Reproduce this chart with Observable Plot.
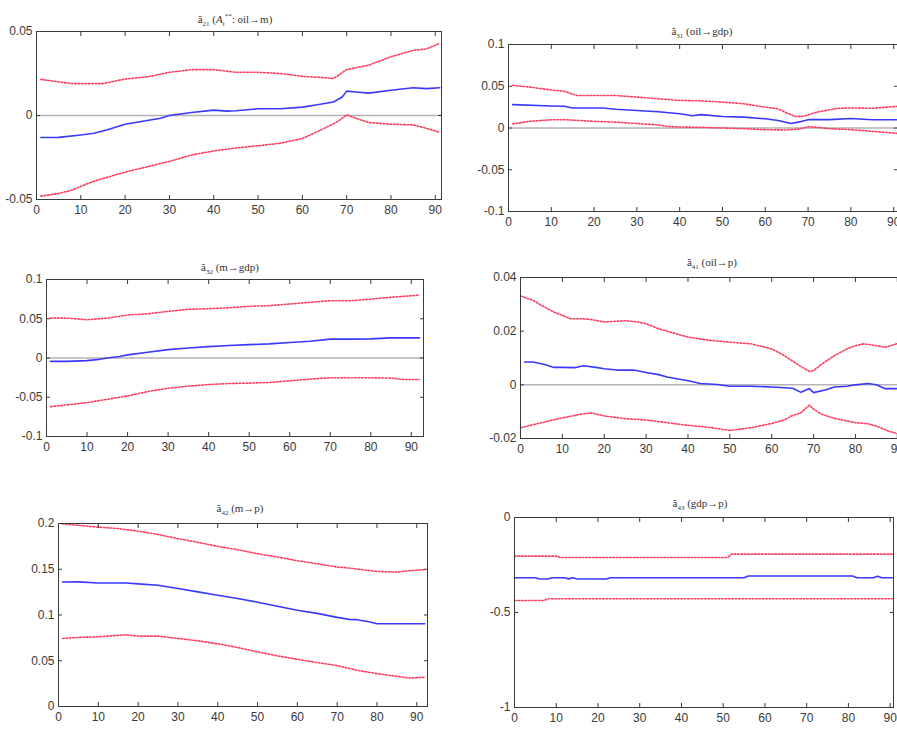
<!DOCTYPE html>
<html><head><meta charset="utf-8">
<script src="https://cdn.jsdelivr.net/npm/d3@7"></script>
<script src="https://cdn.jsdelivr.net/npm/@observablehq/plot@0.6"></script>
<style>
body{margin:0;background:#fff;}
#root{position:relative;width:897px;height:729px;overflow:hidden;background:#fff;}
.title{position:absolute;font-family:"Liberation Serif","DejaVu Serif",serif;font-size:11px;color:#333;transform:translateX(-50%);white-space:nowrap;line-height:12px;}
.title sub{font-size:7px;} .title sup{font-size:7px;}
</style></head><body><div id="root"></div>
<script>
const xTicks = [0,10,20,30,40,50,60,70,80,90];

// Panel 1: oil -> m
const p1Est = [[1,-0.0131],[5,-0.013],[10,-0.0116],[13,-0.0106],[16,-0.0085],[20,-0.0052],[25,-0.003],[28,-0.0016],[30,0],[35,0.0018],[40,0.0032],[43,0.0026],[45,0.0028],[50,0.004],[55,0.004],[60,0.005],[63,0.0062],[67,0.008],[69,0.011],[70,0.0145],[72,0.014],[75,0.0133],[80,0.015],[85,0.0165],[88,0.016],[91,0.0165]];
const p1Up = [[1,0.0215],[5,0.020],[8,0.019],[15,0.019],[20,0.0217],[25,0.023],[30,0.0257],[35,0.0273],[40,0.0273],[45,0.0257],[50,0.0257],[55,0.025],[60,0.0233],[65,0.0225],[67,0.022],[70,0.0273],[75,0.030],[80,0.035],[85,0.0388],[88,0.0396],[91,0.043]];
const p1Lo = [[1,-0.048],[5,-0.0464],[8,-0.0444],[12,-0.040],[15,-0.0375],[20,-0.0337],[25,-0.0305],[30,-0.0273],[35,-0.0235],[40,-0.0211],[45,-0.0193],[50,-0.018],[55,-0.0165],[60,-0.0137],[65,-0.0076],[68,-0.0036],[70,0.0004],[72,-0.0016],[75,-0.0042],[80,-0.0052],[85,-0.0056],[88,-0.0076],[91,-0.010]];
const p1YTicks = [-0.05,0,0.05];

// Panel 2: oil -> gdp
const p2Est = [[1,0.028],[10,0.0264],[13,0.026],[15,0.024],[22,0.024],[25,0.0224],[30,0.021],[35,0.0195],[40,0.017],[43,0.0146],[45,0.016],[50,0.0138],[55,0.013],[60,0.011],[63,0.009],[66,0.0053],[68,0.0073],[70,0.010],[75,0.010],[80,0.0114],[85,0.0098],[91,0.0098]];
const p2Up = [[1,0.051],[5,0.049],[10,0.0455],[13,0.044],[16,0.039],[25,0.039],[30,0.037],[35,0.035],[40,0.033],[45,0.0325],[50,0.031],[55,0.029],[60,0.025],[63,0.023],[65,0.018],[67,0.0138],[69,0.014],[72,0.019],[77,0.0236],[80,0.024],[85,0.0236],[91,0.026]];
const p2Lo = [[1,0.005],[5,0.008],[10,0.0098],[13,0.010],[20,0.008],[25,0.007],[30,0.0053],[35,0.0037],[37,0.002],[40,0.0012],[45,0.0008],[50,0],[55,-0.0008],[60,-0.002],[65,-0.0024],[68,-0.0012],[70,0.0016],[72,0.0008],[75,-0.0008],[80,-0.002],[85,-0.004],[91,-0.0065]];
const p2YTicks = [-0.1,-0.05,0,0.05,0.1];

// Panel 3: m -> gdp
const p3Est = [[1,-0.0043],[5,-0.0043],[10,-0.0034],[13,-0.0017],[15,0],[18,0.002],[20,0.004],[25,0.0073],[30,0.0107],[35,0.0128],[40,0.0145],[45,0.016],[50,0.017],[55,0.018],[60,0.0197],[65,0.0214],[70,0.024],[75,0.024],[80,0.0244],[85,0.0256],[92,0.0256]];
const p3Up = [[1,0.0508],[5,0.0508],[8,0.0496],[10,0.0487],[15,0.0508],[20,0.0547],[25,0.0564],[30,0.0594],[35,0.062],[40,0.0628],[45,0.064],[50,0.0658],[55,0.0667],[60,0.0688],[65,0.0709],[70,0.073],[75,0.073],[80,0.075],[85,0.0774],[92,0.080]];
const p3Lo = [[1,-0.062],[5,-0.0598],[10,-0.0568],[15,-0.0526],[20,-0.0483],[25,-0.0427],[30,-0.0385],[35,-0.0359],[40,-0.0338],[45,-0.0325],[50,-0.032],[55,-0.0312],[60,-0.029],[65,-0.0269],[70,-0.0252],[80,-0.0252],[85,-0.0256],[88,-0.0274],[92,-0.0274]];
const p3YTicks = [-0.1,-0.05,0,0.05,0.1];

// Panel 4: oil -> p
const p4Est = [[1,0.0085],[3,0.0085],[6,0.0075],[8,0.0065],[10,0.0065],[13,0.0064],[15,0.0071],[18,0.0065],[20,0.006],[23,0.0055],[27,0.0055],[30,0.0046],[33,0.0038],[35,0.0029],[40,0.0015],[43,0.0005],[47,0.0001],[50,-0.0005],[55,-0.0005],[60,-0.0008],[65,-0.0013],[67,-0.0028],[69,-0.0014],[70,-0.0029],[73,-0.0018],[75,-0.0008],[78,-0.0005],[80,0],[83,0.0005],[85,0],[87,-0.0014],[91,-0.0014]];
const p4Up = [[0,0.0331],[3,0.0315],[5,0.0296],[8,0.0271],[10,0.0259],[12,0.0246],[15,0.0246],[17,0.0243],[20,0.0234],[25,0.0239],[28,0.0234],[30,0.0228],[33,0.0209],[35,0.02],[40,0.0178],[45,0.0166],[50,0.0159],[55,0.0153],[60,0.0134],[63,0.0109],[65,0.0088],[67,0.0068],[69,0.005],[70,0.0053],[72,0.0078],[75,0.0109],[78,0.0134],[80,0.0146],[82,0.0153],[85,0.0146],[87,0.014],[91,0.0158]];
const p4Lo = [[0,-0.016],[5,-0.0141],[10,-0.0123],[15,-0.0108],[17,-0.0105],[20,-0.0116],[25,-0.0126],[30,-0.0131],[35,-0.0141],[40,-0.0151],[45,-0.0158],[50,-0.017],[53,-0.0164],[55,-0.016],[60,-0.0144],[63,-0.0131],[65,-0.0114],[67,-0.0104],[69,-0.0075],[70,-0.0091],[72,-0.011],[75,-0.0125],[80,-0.0141],[83,-0.0145],[85,-0.0154],[88,-0.0173],[91,-0.0186]];
const p4YTicks = [-0.02,0,0.02,0.04];

// Panel 5: m -> p
const p5Est = [[1,0.136],[5,0.1362],[10,0.135],[17,0.135],[20,0.134],[25,0.1325],[30,0.129],[35,0.1253],[40,0.1216],[45,0.118],[50,0.114],[55,0.1095],[60,0.1051],[65,0.1018],[70,0.0974],[73,0.0952],[75,0.0949],[78,0.0927],[80,0.0905],[92,0.0905]];
const p5Up = [[1,0.1996],[5,0.198],[10,0.196],[15,0.1945],[20,0.1916],[25,0.188],[30,0.1835],[35,0.1795],[40,0.175],[45,0.1714],[50,0.167],[55,0.1634],[60,0.1593],[65,0.156],[70,0.1524],[73,0.1513],[75,0.1502],[80,0.1476],[85,0.1469],[88,0.1484],[92,0.1495]];
const p5Lo = [[1,0.0744],[5,0.0755],[10,0.0762],[15,0.0777],[17,0.0784],[20,0.0769],[25,0.0769],[30,0.0744],[35,0.0718],[40,0.0685],[45,0.0645],[50,0.0597],[55,0.0553],[60,0.0516],[65,0.048],[70,0.0447],[75,0.0396],[80,0.0359],[85,0.033],[88,0.0311],[92,0.0319]];
const p5YTicks = [0,0.05,0.1,0.15,0.2];

// Panel 6: gdp -> p
const p6Est = [[0,-0.317],[5,-0.317],[6,-0.324],[8,-0.324],[9,-0.317],[12,-0.317],[13,-0.323],[14,-0.317],[15,-0.324],[22,-0.324],[23,-0.317],[55,-0.317],[56,-0.308],[81,-0.308],[82,-0.317],[86,-0.317],[87,-0.309],[88,-0.317],[90.5,-0.317]];
const p6Up = [[0,-0.2035],[10,-0.2035],[11,-0.2106],[51,-0.2106],[52,-0.193],[90.5,-0.193]];
const p6Lo = [[0,-0.437],[7,-0.437],[8,-0.428],[90.5,-0.428]];
const p6YTicks = [-1,-0.5,0];

const panels = [
  {title:'ã<sub>21</sub> (<i>A</i><sub>t</sub><sup>**</sup>: oil→m)', tx:235, ty:10, L:36, T:31, R:441, B:199, xd:[0,91.4], yd:[-0.05,0.05], yt:p1YTicks, est:p1Est, up:p1Up, lo:p1Lo, zero:true},
  {title:'ã<sub>31</sub> (oil→gdp)', tx:702, ty:25, L:508, T:44, R:897, B:211, xd:[0,90.9], yd:[-0.1,0.1], yt:p2YTicks, est:p2Est, up:p2Up, lo:p2Lo, zero:true},
  {title:'ã<sub>32</sub> (m→gdp)', tx:230, ty:261, L:46, T:279, R:423, B:436, xd:[0,93], yd:[-0.1,0.1], yt:p3YTicks, est:p3Est, up:p3Up, lo:p3Lo, zero:true},
  {title:'ã<sub>41</sub> (oil→p)', tx:712, ty:256, L:520, T:277, R:901, B:438, xd:[0,91], yd:[-0.02,0.04], yt:p4YTicks, est:p4Est, up:p4Up, lo:p4Lo, zero:true},
  {title:'ã<sub>42</sub> (m→p)', tx:240, ty:502, L:58, T:523, R:427, B:706, xd:[0,92.7], yd:[0,0.2], yt:p5YTicks, est:p5Est, up:p5Up, lo:p5Lo, zero:false},
  {title:'ã<sub>43</sub> (gdp→p)', tx:700, ty:497, L:514, T:517, R:893, B:707, xd:[0,90.8], yd:[-1,0], yt:p6YTicks, est:p6Est, up:p6Up, lo:p6Lo, zero:false}
];

const root = document.getElementById("root");
const fmt = d => String(d);
const RED = "#ff3d5e", BLUE = "#3838ff", AX = "#3a3a3a";
for (const p of panels) {
  const ml = 46, mr = 6, mt = 6, mb = 24;
  const w = p.R - p.L, h = p.B - p.T;
  const line = (data, opts) => Plot.line(data, {x: d => d[0], y: d => d[1], ...opts});
  const svg = Plot.plot({
    width: w + ml + mr, height: h + mt + mb,
    marginLeft: ml, marginRight: mr, marginTop: mt, marginBottom: mb,
    x: {domain: p.xd}, y: {domain: p.yd},
    style: {fontFamily: "'Liberation Sans', Arial, sans-serif", fontSize: "12px", color: AX, background: "transparent", overflow: "visible"},
    marks: [
      p.zero ? Plot.ruleY([0], {stroke: "#b4b4b4", strokeWidth: 1.5}) : null,
      line(p.up, {stroke: RED, strokeWidth: 1.6, strokeDasharray: "1.6,1.8"}),
      line(p.lo, {stroke: RED, strokeWidth: 1.6, strokeDasharray: "1.6,1.8"}),
      line(p.est, {stroke: BLUE, strokeWidth: 1.6}),
      Plot.frame({stroke: AX, strokeWidth: 1}),
      Plot.axisX({ticks: xTicks, anchor: "bottom", tickSize: 0, tickPadding: 6, tickFormat: fmt, label: null, fill: AX}),
      Plot.axisX({ticks: xTicks, anchor: "bottom", tickSize: -4, text: null, label: null, stroke: AX}),
      Plot.axisX({ticks: xTicks, anchor: "top", tickSize: -4, text: null, label: null, stroke: AX}),
      Plot.axisY({ticks: p.yt, anchor: "left", tickSize: 0, tickPadding: 4, tickFormat: fmt, label: null, fill: AX}),
      Plot.axisY({ticks: p.yt, anchor: "left", tickSize: -4, text: null, label: null, stroke: AX}),
      Plot.axisY({ticks: p.yt, anchor: "right", tickSize: -4, text: null, label: null, stroke: AX})
    ]
  });
  svg.style.position = "absolute";
  svg.style.left = (p.L - ml) + "px";
  svg.style.top = (p.T - mt) + "px";
  svg.style.maxWidth = "none";
  root.appendChild(svg);
  const t = document.createElement("div");
  t.className = "title";
  t.innerHTML = p.title;
  t.style.left = p.tx + "px";
  t.style.top = p.ty + "px";
  root.appendChild(t);
}
</script></body></html>
